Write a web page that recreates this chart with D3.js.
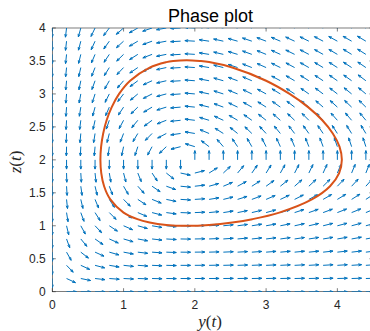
<!DOCTYPE html>
<html>
<head>
<meta charset="utf-8">
<script src="https://cdn.jsdelivr.net/npm/d3@7"></script>
<style>
    body { margin: 0; background: #fff; }
</style>
</head>
<body>
<svg id="phase-plot" width="370" height="331"></svg>
<script>
// closed orbit (y, z)
var orbitY = [1.887, 1.697, 1.600, 1.366, 1.092, 0.937, 0.834, 0.762, 0.714, 0.685, 0.675, 0.687,
    0.727, 0.814, 1.000, 1.194, 1.366, 1.600, 1.887, 2.200, 2.525, 2.807, 3.185, 3.642, 3.897,
    4.025, 4.063, 4.030, 3.936, 3.789, 3.589, 3.330, 3.000, 2.525, 2.200, 2.070];
var orbitZ = [3.512, 3.500, 3.482, 3.400, 3.200, 3.000, 2.800, 2.600, 2.400, 2.200, 2.000, 1.800,
    1.600, 1.400, 1.200, 1.100, 1.050, 1.013, 1.000, 1.013, 1.050, 1.100, 1.200, 1.400, 1.600,
    1.800, 2.000, 2.200, 2.400, 2.600, 2.800, 3.000, 3.200, 3.400, 3.483, 3.500];

// direction field grid
var yGrid = [0, 0.2, 0.4, 0.6, 0.8, 1, 1.2, 1.4, 1.6, 1.8, 2, 2.2, 2.4, 2.6, 2.8, 3, 3.2, 3.4, 3.6, 3.8, 4, 4.2, 4.4];
var zGrid = [0, 0.2, 0.4, 0.6, 0.8, 1, 1.2, 1.4, 1.6, 1.8, 2, 2.2, 2.4, 2.6, 2.8, 3, 3.2, 3.4, 3.6, 3.8, 4];

// y' = y (a - b z),  z' = z (c y - d)
var rateA = 2, rateB = 1, rateC = 0.53, rateD = 1;

var yTicks = [0, 1, 2, 3, 4];
var yTickLabels = ["0", "1", "2", "3", "4"];
var zTicks = [0, 0.5, 1, 1.5, 2, 2.5, 3, 3.5, 4];
var zTickLabels = ["0", "0.5", "1", "1.5", "2", "2.5", "3", "3.5", "4"];

function drawPhasePlot() {
    var svg = d3.select("#phase-plot");
    var left = 52.3, right = 373, top = 28, bottom = 291.7;

    var xScale = d3.scaleLinear().domain([0, 4.5]).range([left, right]),
        yScale = d3.scaleLinear().domain([0, 4]).range([bottom, top]);

    var axisColor = "#262626";
    var font = "Helvetica, Arial, 'Liberation Sans', sans-serif";

    svg.append("defs").append("clipPath").attr("id", "plot-clip")
        .append("rect")
        .attr("x", left).attr("y", top)
        .attr("width", right - left).attr("height", bottom - top);

    // box
    svg.append("rect")
        .attr("x", left).attr("y", top)
        .attr("width", right - left).attr("height", bottom - top)
        .style("fill", "none")
        .style("stroke", axisColor)
        .style("stroke-width", 0.6);

    var tickLen = 3.5;
    var ticks = svg.append("g")
        .style("stroke", axisColor)
        .style("stroke-width", 0.6);
    yTicks.forEach(function (t) {
        var x = xScale(t);
        ticks.append("line").attr("x1", x).attr("x2", x).attr("y1", bottom).attr("y2", bottom - tickLen);
        ticks.append("line").attr("x1", x).attr("x2", x).attr("y1", top).attr("y2", top + tickLen);
    });
    zTicks.forEach(function (t) {
        var y = yScale(t);
        ticks.append("line").attr("x1", left).attr("x2", left + tickLen).attr("y1", y).attr("y2", y);
        ticks.append("line").attr("x1", right).attr("x2", right - tickLen).attr("y1", y).attr("y2", y);
    });

    // tick labels
    svg.append("g").selectAll("text")
        .data(yTicks)
        .enter()
        .append("text")
        .attr("x", function (d) { return xScale(d); })
        .attr("y", 309)
        .attr("text-anchor", "middle")
        .style("font-family", font)
        .style("font-size", "12px")
        .style("fill", axisColor)
        .text(function (d, i) { return yTickLabels[i]; });

    svg.append("g").selectAll("text")
        .data(zTicks)
        .enter()
        .append("text")
        .attr("x", left - 6.5)
        .attr("y", function (d) { return yScale(d) + 4.3; })
        .attr("text-anchor", "end")
        .style("font-family", font)
        .style("font-size", "12px")
        .style("fill", axisColor)
        .text(function (d, i) { return zTickLabels[i]; });

    // quiver
    var arrowLen = 0.14;
    var quiver = svg.append("g")
        .attr("clip-path", "url(#plot-clip)")
        .style("stroke", "#0072BD")
        .style("stroke-width", 1)
        .style("fill", "none");

    zGrid.forEach(function (z) {
        yGrid.forEach(function (y) {
            var dy = y * (rateA - rateB * z),
                dz = z * (rateC * y - rateD);
            var len = Math.sqrt(dy * dy + dz * dz);
            if (len === 0) return;
            var x0 = xScale(y), y0 = yScale(z),
                x1 = xScale(y + arrowLen * dy / len),
                y1 = yScale(z + arrowLen * dz / len);
            var ang = Math.atan2(y1 - y0, x1 - x0);
            var pl = Math.sqrt((x1 - x0) * (x1 - x0) + (y1 - y0) * (y1 - y0));
            var hl = pl * 0.34, ha = 0.33;
            var path = d3.path();
            path.moveTo(x0, y0);
            path.lineTo(x1, y1);
            path.moveTo(x1 - hl * Math.cos(ang - ha), y1 - hl * Math.sin(ang - ha));
            path.lineTo(x1, y1);
            path.lineTo(x1 - hl * Math.cos(ang + ha), y1 - hl * Math.sin(ang + ha));
            quiver.append("path").attr("d", path.toString());
        });
    });

    // orbit
    var orbit = orbitY.map(function (d, i) { return [d, orbitZ[i]]; });
    var line = d3.line()
        .x(function (d) { return xScale(d[0]); })
        .y(function (d) { return yScale(d[1]); })
        .curve(d3.curveCatmullRomClosed);

    svg.append("path")
        .datum(orbit)
        .attr("clip-path", "url(#plot-clip)")
        .attr("d", line)
        .style("fill", "none")
        .style("stroke", "#D95319")
        .style("stroke-width", 2);

    // title
    svg.append("text")
        .attr("x", 210.5)
        .attr("y", 21.5)
        .attr("text-anchor", "middle")
        .style("font-family", font)
        .style("font-size", "18px")
        .style("fill", "#000")
        .text("Phase plot");

    // axis labels
    var xl = svg.append("text")
        .attr("x", 210)
        .attr("y", 327)
        .attr("text-anchor", "middle")
        .style("font-family", "'Liberation Serif', 'DejaVu Serif', serif")
        .style("font-size", "17px")
        .style("fill", axisColor);
    xl.append("tspan").style("font-style", "italic").text("y");
    xl.append("tspan").text("(");
    xl.append("tspan").style("font-style", "italic").text("t");
    xl.append("tspan").text(")");

    var zl = svg.append("text")
        .attr("text-anchor", "middle")
        .attr("transform", "translate(21,162)rotate(-90)")
        .style("font-family", "'Liberation Serif', 'DejaVu Serif', serif")
        .style("font-size", "17px")
        .style("fill", axisColor);
    zl.append("tspan").style("font-style", "italic").text("z");
    zl.append("tspan").text("(");
    zl.append("tspan").style("font-style", "italic").text("t");
    zl.append("tspan").text(")");
}

drawPhasePlot();
</script>
</body>
</html>
